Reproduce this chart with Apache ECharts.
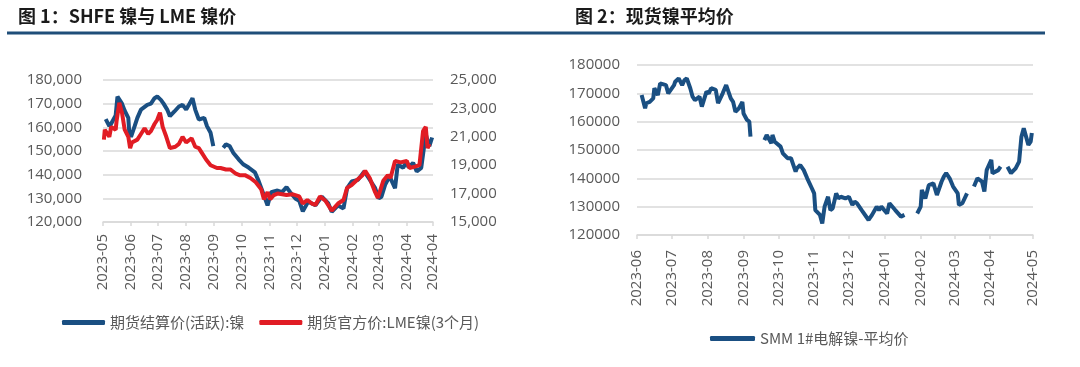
<!DOCTYPE html>
<html><head><meta charset="utf-8">
<script src="https://cdn.jsdelivr.net/npm/echarts@6/dist/echarts.min.js"></script>
<style>html,body{margin:0;padding:0;background:#fff}#c{width:1080px;height:367px}</style>
</head><body><div id="c"></div>
<script>
// ---- Chart 1: SHFE nickel (left axis) and LME nickel (right axis)
const shfeDates = ['2023-05-04','2023-05-08','2023-05-10','2023-05-15','2023-05-17','2023-05-22','2023-05-25','2023-05-29','2023-05-30','2023-06-01','2023-06-05','2023-06-08','2023-06-12','2023-06-19','2023-06-23','2023-06-27','2023-06-30','2023-07-04','2023-07-07','2023-07-11','2023-07-14','2023-07-19','2023-07-24','2023-07-28','2023-08-01','2023-08-04','2023-08-08','2023-08-11','2023-08-15','2023-08-21','2023-08-24','2023-08-28','2023-08-31','2023-09-05','2023-09-11','2023-09-14','2023-09-18','2023-09-22','2023-09-28','2023-10-03','2023-10-09','2023-10-16','2023-10-20','2023-10-24','2023-10-30','2023-11-01','2023-11-03','2023-11-10','2023-11-15','2023-11-20','2023-11-24','2023-11-30','2023-12-04','2023-12-08','2023-12-14','2023-12-22','2023-12-29','2024-01-05','2024-01-09','2024-01-16','2024-01-22','2024-01-26','2024-01-31','2024-02-07','2024-02-14','2024-02-19','2024-02-26','2024-03-01','2024-03-04','2024-03-08','2024-03-13','2024-03-19','2024-03-22','2024-03-28','2024-04-01','2024-04-03','2024-04-08','2024-04-12','2024-04-17','2024-04-22','2024-04-24','2024-04-26','2024-04-29'];
const shfeValues = [163500,160500,161500,165000,173000,170000,167000,164000,158000,156000,160500,164000,167500,169500,170000,172300,173000,171600,170000,167500,164700,166700,168800,169500,167500,169500,172300,167500,163300,164000,160500,157700,152100,null,151400,152800,152100,149300,146500,144400,143000,141000,137500,133300,127000,129800,132600,133300,132600,134700,132600,129800,129000,124500,128600,127100,130700,128000,124300,127000,125700,134300,137100,137800,141400,138500,134300,130000,130700,135700,139300,134300,144300,142900,145700,143000,145000,141400,142900,157100,154300,152000,155700];

const lmeDates = ['2023-05-02','2023-05-03','2023-05-08','2023-05-10','2023-05-15','2023-05-16','2023-05-19','2023-05-22','2023-05-25','2023-05-29','2023-05-31','2023-06-02','2023-06-08','2023-06-12','2023-06-16','2023-06-20','2023-06-23','2023-06-27','2023-06-30','2023-07-03','2023-07-06','2023-07-10','2023-07-14','2023-07-20','2023-07-24','2023-07-28','2023-08-01','2023-08-07','2023-08-11','2023-08-15','2023-08-18','2023-08-23','2023-08-28','2023-09-04','2023-09-08','2023-09-14','2023-09-19','2023-09-25','2023-09-29','2023-10-05','2023-10-11','2023-10-17','2023-10-23','2023-10-26','2023-10-30','2023-11-02','2023-11-06','2023-11-10','2023-11-20','2023-11-27','2023-12-04','2023-12-08','2023-12-13','2023-12-18','2023-12-22','2023-12-27','2024-01-02','2024-01-09','2024-01-16','2024-01-22','2024-01-26','2024-01-31','2024-02-05','2024-02-12','2024-02-15','2024-02-20','2024-02-26','2024-02-29','2024-03-06','2024-03-11','2024-03-14','2024-03-19','2024-03-25','2024-04-01','2024-04-04','2024-04-10','2024-04-15','2024-04-19','2024-04-22','2024-04-24','2024-04-26'];
const lmeValues = [20800,21500,21000,21700,21500,22100,23400,22700,21500,21000,20200,20600,20800,21200,21600,21200,21400,21900,22200,22700,21700,21000,20200,20300,20500,21000,20600,20900,20300,20200,19900,19400,19000,18800,18800,18700,18700,18400,18300,18300,18100,17800,17300,16600,17100,16600,16900,17000,16900,16950,16800,16300,16550,16300,16200,16800,16500,15800,16300,16550,17400,17600,17900,18300,18600,18100,17100,16700,17900,18300,18100,19300,19200,19300,18800,18900,19000,21400,21700,20200,20500];

// ---- Chart 2: SMM 1# electrolytic nickel average price
const smmDates = ['2023-06-05','2023-06-08','2023-06-09','2023-06-12','2023-06-15','2023-06-16','2023-06-19','2023-06-21','2023-06-26','2023-06-28','2023-07-03','2023-07-04','2023-07-07','2023-07-10','2023-07-12','2023-07-14','2023-07-17','2023-07-19','2023-07-21','2023-07-25','2023-07-27','2023-07-31','2023-08-02','2023-08-04','2023-08-08','2023-08-10','2023-08-14','2023-08-17','2023-08-21','2023-08-23','2023-08-25','2023-08-28','2023-08-31','2023-09-01','2023-09-04','2023-09-06','2023-09-07','2023-09-12','2023-09-19','2023-09-21','2023-09-25','2023-09-26','2023-09-28','2023-10-03','2023-10-05','2023-10-09','2023-10-12','2023-10-16','2023-10-17','2023-10-20','2023-10-23','2023-10-26','2023-10-30','2023-11-01','2023-11-02','2023-11-06','2023-11-08','2023-11-10','2023-11-13','2023-11-15','2023-11-17','2023-11-20','2023-11-22','2023-11-24','2023-11-28','2023-12-01','2023-12-04','2023-12-06','2023-12-08','2023-12-12','2023-12-18','2023-12-21','2023-12-25','2023-12-27','2023-12-29','2024-01-03','2024-01-05','2024-01-10','2024-01-15','2024-01-18','2024-01-23','2024-01-29','2024-02-01','2024-02-02','2024-02-05','2024-02-08','2024-02-12','2024-02-15','2024-02-19','2024-02-21','2024-02-23','2024-02-26','2024-02-29','2024-03-04','2024-03-05','2024-03-08','2024-03-12','2024-03-14','2024-03-18','2024-03-21','2024-03-25','2024-03-27','2024-03-29','2024-04-02','2024-04-03','2024-04-08','2024-04-09','2024-04-10','2024-04-12','2024-04-16','2024-04-19','2024-04-23','2024-04-26','2024-04-28','2024-04-30','2024-05-04','2024-05-06','2024-05-07'];
const smmValues = [169400,164700,166500,167000,168200,171800,169400,173500,172900,170000,172900,174100,175300,172900,174700,175300,171800,168800,167600,168800,165300,170600,170000,171800,171200,166500,170000,172900,168200,167000,163500,164700,167000,162900,160600,160000,154700,null,153500,155300,152400,155300,152900,151200,148800,147100,147100,142400,143500,144700,142900,140000,136500,134700,128800,127100,124100,130000,133500,128800,129400,134700,132900,133500,132900,133500,130600,131800,131200,128800,125300,127100,130000,128800,130000,127600,131200,128800,126500,127100,null,127600,130000,135900,132900,137600,138200,134100,138800,140600,141800,140000,137100,134700,130600,131200,134700,null,137100,140000,138800,135300,142900,146500,141800,142900,143500,144100,null,144100,141800,143500,145900,154700,157700,151800,153000,156000];

// ---- Axis ticks / labels
const leftTicks1 = {min: 120000, max: 180000, step: 10000};
const rightTicks1 = {min: 15000, max: 25000, step: 2000};
const leftTicks2 = {min: 120000, max: 180000, step: 10000};
const names = ['期货结算价(活跃):镍', '期货官方价:LME镍(3个月)', 'SMM 1#电解镍-平均价'];
const titles = ['图 1：SHFE 镍与 LME 镍价', '图 2：现货镍平均价'];

const BLUE = '#1A4F82', RED = '#E11C24', GRAY = '#595959', GRID = '#D9D9D9';
const numFont = 'Open Sans';
const pair = (ds, vs) => ds.map((d, i) => [d, vs[i] == null ? '-' : vs[i]]);

function xAxisCfg(gi, min, max, margin) {
  return {
    type: 'time', gridIndex: gi, min: min, max: max, splitNumber: 12,
    minInterval: 28 * 86400000, maxInterval: 31 * 86400000,
    axisLine: {show: true, lineStyle: {color: GRID, width: 1.5}},
    axisTick: {show: true, length: 4, lineStyle: {color: GRID, width: 1.5}},
    splitLine: {show: false},
    axisLabel: {rotate: 90, formatter: '{yyyy}-{MM}', color: GRAY, fontSize: 15, fontFamily: numFont,
      margin: margin, hideOverlap: false, showMinLabel: true, showMaxLabel: true}
  };
}
function yAxisCfg(gi, t, pos, comma, split) {
  return {
    type: 'value', gridIndex: gi, position: pos, min: t.min, max: t.max, interval: t.step,
    axisLine: {show: false}, axisTick: {show: false},
    splitLine: {show: split, lineStyle: {color: GRID, width: 1.5}},
    axisLabel: {color: GRAY, fontSize: 15, fontFamily: numFont, margin: pos === 'left' ? (gi === 0 ? 21 : 17) : 17,
      formatter: v => comma ? v.toLocaleString('en-US') : String(v)}
  };
}

const chart = echarts.init(document.getElementById('c'), null, {renderer: 'canvas'});
chart.setOption({
  animation: false,
  backgroundColor: '#fff',
  graphic: [
    {type: 'rect', shape: {x: 7, y: 31.5, width: 1038, height: 3}, style: {fill: '#1F4E79'}},
    {type: 'text', left: 18, top: 7, style: {text: titles[0], font: 'bold 18px "Noto Sans CJK SC"', fill: '#1a1a1a'}},
    {type: 'text', left: 575, top: 7, style: {text: titles[1], font: 'bold 18px "Noto Sans CJK SC"', fill: '#1a1a1a'}}
  ],
  grid: [
    {left: 103, top: 80, width: 330, height: 142},
    {left: 637, top: 65, width: 396, height: 170}
  ],
  xAxis: [xAxisCfg(0, '2023-05-01', '2024-04-30', 12), xAxisCfg(1, '2023-06-01', '2024-05-08', 15)],
  yAxis: [
    yAxisCfg(0, leftTicks1, 'left', true, true),
    yAxisCfg(0, rightTicks1, 'right', true, false),
    yAxisCfg(1, leftTicks2, 'left', false, true)
  ],
  legend: [
    {data: [names[0], names[1]], left: 57, top: 310, icon: 'roundRect', itemWidth: 43, itemHeight: 5, itemGap: 15,
      textStyle: {color: GRAY, fontSize: 15, fontFamily: 'Noto Sans CJK SC'}},
    {data: [names[2]], left: 705, top: 326, icon: 'roundRect', itemWidth: 45, itemHeight: 5,
      textStyle: {color: GRAY, fontSize: 15, fontFamily: 'Noto Sans CJK SC'}}
  ],
  series: [
    {name: names[0], type: 'line', xAxisIndex: 0, yAxisIndex: 0, data: pair(shfeDates, shfeValues),
      showSymbol: false, symbol: 'none', connectNulls: false, color: BLUE, lineStyle: {width: 4, color: BLUE}},
    {name: names[1], type: 'line', xAxisIndex: 0, yAxisIndex: 1, data: pair(lmeDates, lmeValues),
      showSymbol: false, symbol: 'none', color: RED, lineStyle: {width: 4, color: RED}},
    {name: names[2], type: 'line', xAxisIndex: 1, yAxisIndex: 2, data: pair(smmDates, smmValues),
      showSymbol: false, symbol: 'none', connectNulls: false, color: BLUE, lineStyle: {width: 4, color: BLUE}}
  ]
});
</script></body></html>
